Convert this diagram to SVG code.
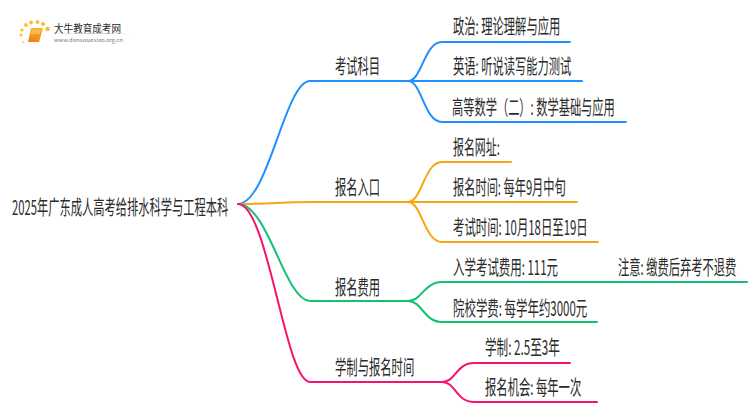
<svg xmlns="http://www.w3.org/2000/svg" width="750" height="410" viewBox="0 0 750 410">
<defs>
<linearGradient id="bk" x1="0" y1="0" x2="0" y2="1"><stop offset="0" stop-color="#fbb62e"/><stop offset="1" stop-color="#ee7f14"/></linearGradient>
<linearGradient id="rule" x1="0" y1="0" x2="1" y2="0"><stop offset="0" stop-color="#ddd" stop-opacity="0.2"/><stop offset="0.5" stop-color="#ccc"/><stop offset="1" stop-color="#ddd" stop-opacity="0"/></linearGradient>
</defs>
<style>
text{font-family:"Noto Sans CJK SC","Liberation Sans",sans-serif;fill:#2b2b2b;font-size:20px;dominant-baseline:central}
.c{fill:none;stroke-width:2;stroke-linecap:round}
.b{stroke:#1e90ff}.o{stroke:#f9a70f}.g{stroke:#14c174}.p{stroke:#f8126f}
.d{fill:#fbc02d}
</style>
<rect width="750" height="410" fill="#fff"/>
<g id="logo">
<circle class="d" cx="23" cy="42" r="1.2" opacity="0.6"/><circle class="d" cx="21" cy="35" r="1.5"/><circle class="d" cx="22" cy="30" r="1.6"/><circle class="d" cx="26" cy="25" r="1.9"/><circle class="d" cx="31" cy="22.500" r="2"/><circle class="d" cx="37.500" cy="22" r="2"/><circle class="d" cx="43" cy="24" r="2.100"/><circle class="d" cx="47.500" cy="29" r="2.300"/>
<path d="M31 28H43L39 42H28Z" fill="url(#bk)"/><path d="M32 31H41M31 33H40" stroke="#ffe6a8" stroke-width="0.6"/>
<text x="54" y="27.500" textLength="67" lengthAdjust="spacingAndGlyphs" style="font-size:11px">大牛教育成考网</text>
<rect x="52" y="33" width="82" height="1" fill="url(#rule)"/>
<text x="54" y="39" textLength="69" lengthAdjust="spacingAndGlyphs" style="font-size:5px;fill:#777">www.daniuxuexiao.org.cn</text>
</g>
<g id="connectors">
<path class="c b" d="M238 204C268 204 285 81 310 81H408"/>
<path class="c b" d="M408 81C422 81 424 42 442 42H570"/>
<path class="c b" d="M408 81H582"/>
<path class="c b" d="M408 81C422 81 424 122 442 122H626"/>
<path class="c o" d="M238 204C268 204 285 202 310 202H408"/>
<path class="c o" d="M408 202C422 202 424 162 442 162H511"/>
<path class="c o" d="M408 202H577"/>
<path class="c o" d="M408 202C422 202 424 242 442 242H598"/>
<path class="c g" d="M238 204C268 204 285 301 310 301H408"/>
<path class="c g" d="M408 301C422 301 424 282 442 282H747"/>
<path class="c g" d="M408 301C422 301 424 322 442 322H597"/>
<path class="c p" d="M238 204C268 204 285 382 310 382H442"/>
<path class="c p" d="M442 382C456 382 456 363 474 363H570"/>
<path class="c p" d="M442 382C456 382 456 402 474 402H597"/>
</g>
<g id="root"><text transform="translate(12 206) scale(.55 1)" textLength="393" lengthAdjust="spacingAndGlyphs">2025年广东成人高考给排水科学与工程本科</text></g>
<g id="n1"><text transform="translate(335 65) scale(.55 1)" textLength="82" lengthAdjust="spacingAndGlyphs">考试科目</text></g>
<g id="n2"><text transform="translate(335 186) scale(.55 1)" textLength="82" lengthAdjust="spacingAndGlyphs">报名入口</text></g>
<g id="n3"><text transform="translate(335 286) scale(.55 1)" textLength="82" lengthAdjust="spacingAndGlyphs">报名费用</text></g>
<g id="n4"><text transform="translate(335 366) scale(.55 1)" textLength="144" lengthAdjust="spacingAndGlyphs">学制与报名时间</text></g>
<g id="n1a"><text transform="translate(453 25) scale(.55 1)" textLength="195" lengthAdjust="spacingAndGlyphs">政治: 理论理解与应用</text></g>
<g id="n1b"><text transform="translate(453 65) scale(.55 1)" textLength="215" lengthAdjust="spacingAndGlyphs">英语: 听说读写能力测试</text></g>
<g id="n1c"><text transform="translate(452 106) scale(.55 1)" textLength="296" lengthAdjust="spacingAndGlyphs">高等数学（二）: 数学基础与应用</text></g>
<g id="n2a"><text transform="translate(453 146) scale(.55 1)" textLength="85" lengthAdjust="spacingAndGlyphs">报名网址:</text></g>
<g id="n2b"><text transform="translate(453 186) scale(.55 1)" textLength="205" lengthAdjust="spacingAndGlyphs">报名时间: 每年9月中旬</text></g>
<g id="n2c"><text transform="translate(453 226) scale(.55 1)" textLength="245" lengthAdjust="spacingAndGlyphs">考试时间: 10月18日至19日</text></g>
<g id="n3a"><text transform="translate(453 266) scale(.55 1)" textLength="191" lengthAdjust="spacingAndGlyphs">入学考试费用: 111元</text></g>
<g id="n3a1"><text transform="translate(618 266) scale(.55 1)" textLength="215" lengthAdjust="spacingAndGlyphs">注意: 缴费后弃考不退费</text></g>
<g id="n3b"><text transform="translate(453 307) scale(.55 1)" textLength="244" lengthAdjust="spacingAndGlyphs">院校学费: 每学年约3000元</text></g>
<g id="n4a"><text transform="translate(485 346) scale(.55 1)" textLength="136" lengthAdjust="spacingAndGlyphs">学制: 2.5至3年</text></g>
<g id="n4b"><text transform="translate(485 386) scale(.55 1)" textLength="175" lengthAdjust="spacingAndGlyphs">报名机会: 每年一次</text></g>
</svg>
